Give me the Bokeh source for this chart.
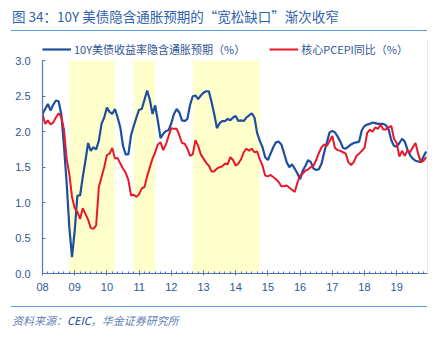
from bokeh.plotting import figure
from bokeh.models import (FixedTicker, Legend, LegendItem, Span, Div, NumeralTickFormatter)
from bokeh.layouts import column
from bokeh.embed import file_html
from bokeh.resources import INLINE

# ---------------- data (monthly, Jan 2008 - Dec 2019) ----------------
start_year = 2008
breakeven_10y = [
    2.25, 2.32, 2.39, 2.30, 2.38, 2.44, 2.43, 2.25, 1.80, 1.28, 0.65, 0.23,   # 2008
    0.60, 1.10, 1.10, 1.36, 1.59, 1.84, 1.73, 1.78, 1.75, 1.87, 2.11, 2.20,   # 2009
    2.34, 2.28, 2.25, 2.32, 2.20, 2.06, 1.80, 1.68, 1.68, 1.95, 2.08, 2.20,   # 2010
    2.31, 2.32, 2.45, 2.58, 2.45, 2.25, 2.37, 2.15, 1.91, 1.97, 2.01, 2.02,   # 2011
    2.12, 2.25, 2.32, 2.27, 2.16, 2.15, 2.18, 2.38, 2.50, 2.51, 2.46, 2.51,   # 2012
    2.55, 2.57, 2.57, 2.42, 2.25, 2.05, 2.12, 2.15, 2.15, 2.18, 2.16, 2.20,   # 2013
    2.22, 2.15, 2.16, 2.15, 2.20, 2.23, 2.26, 2.20, 1.98, 1.87, 1.78, 1.64,   # 2014
    1.60, 1.69, 1.78, 1.85, 1.86, 1.82, 1.70, 1.57, 1.50, 1.54, 1.48, 1.41,   # 2015
    1.33, 1.45, 1.52, 1.60, 1.57, 1.48, 1.46, 1.47, 1.55, 1.71, 1.85, 1.99,   # 2016
    2.01, 1.99, 1.93, 1.86, 1.77, 1.76, 1.79, 1.82, 1.84, 1.85, 1.86, 2.02,   # 2017
    2.08, 2.10, 2.11, 2.13, 2.12, 2.11, 2.11, 2.11, 2.09, 2.03, 1.88, 1.80,   # 2018
    1.79, 1.84, 1.90, 1.86, 1.75, 1.67, 1.62, 1.59, 1.58, 1.57, 1.65, 1.72,   # 2019
]
core_pce_yoy = [
    2.25, 2.11, 2.16, 2.10, 2.13, 2.20, 2.26, 2.21, 2.03, 1.62, 1.40, 1.08,   # 2008
    0.92, 0.87, 0.77, 0.92, 0.84, 0.76, 0.64, 0.63, 0.68, 1.22, 1.36, 1.50,   # 2009
    1.67, 1.69, 1.77, 1.62, 1.63, 1.55, 1.48, 1.42, 1.32, 1.10, 1.11, 1.08,   # 2010
    1.12, 1.20, 1.22, 1.37, 1.50, 1.62, 1.71, 1.82, 1.85, 1.74, 1.82, 1.94,   # 2011
    2.05, 2.04, 2.04, 1.95, 1.84, 1.83, 1.76, 1.66, 1.68, 1.88, 1.80, 1.68,   # 2012
    1.62, 1.56, 1.52, 1.44, 1.44, 1.48, 1.50, 1.51, 1.55, 1.54, 1.64, 1.60,   # 2013
    1.52, 1.55, 1.61, 1.71, 1.76, 1.73, 1.76, 1.71, 1.72, 1.61, 1.52, 1.38,   # 2014
    1.37, 1.39, 1.36, 1.33, 1.29, 1.23, 1.23, 1.24, 1.21, 1.18, 1.15, 1.28,   # 2015
    1.38, 1.41, 1.45, 1.47, 1.50, 1.52, 1.60, 1.70, 1.78, 1.82, 1.80, 1.87,   # 2016
    1.94, 1.77, 1.74, 1.73, 1.71, 1.69, 1.57, 1.53, 1.57, 1.66, 1.69, 1.73,   # 2017
    1.77, 1.98, 2.03, 2.00, 2.06, 2.04, 2.10, 2.03, 2.03, 2.06, 2.08, 1.90,   # 2018
    1.84, 1.65, 1.73, 1.66, 1.73, 1.71, 1.78, 1.84, 1.69, 1.57, 1.59, 1.64,   # 2019
]
# QE periods (shaded), as fractional years
qe_start = [2008 + 10/12, 2010 + 10/12, 2012 + 8/12]
qe_end = [2010 + 3/12, 2011 + 6/12, 2014 + 9/12]
tick_years = list(range(2008, 2020))
tick_labels = ["08", "09", "10", "11", "12", "13", "14", "15", "16", "17", "18", "19"]
y_ticks = [0.0, 0.5, 1.0, 1.5, 2.0, 2.5, 3.0]

series1_name = "10Y美债收益率隐含通胀预期（%）"
series2_name = "核心PCEPI同比（%）"
title_text = "图 34：10Y 美债隐含通胀预期的“宽松缺口”渐次收窄"

# ---------------- figure ----------------
x = [start_year + i / 12 for i in range(len(breakeven_10y))]
x_end = 2019.957

BLUE_TXT = "#2f5597"
AXIS_C = "#4a76c0"
LAB_FONT = "Liberation Sans"
CJK = "Noto Sans CJK SC"

p = figure(width=438, height=275, output_backend="svg", toolbar_location=None,
           x_range=(2008, x_end), y_range=(0, 3.3),
           min_border_left=42, min_border_right=11, min_border_top=8, min_border_bottom=33)
p.outline_line_color = None
p.grid.visible = False
p.background_fill_color = "white"
p.border_fill_color = "white"

p.quad(left=qe_start, right=qe_end, bottom=0, top=3.0, fill_color="#FFFFCC",
       line_color=None)

r1 = p.line(x, breakeven_10y, line_color="#1f4e9f", line_width=2.2)
r2 = p.line(x, core_pce_yoy, line_color="#e8182c", line_width=2.0)

# y axis
p.yaxis.bounds = (0, 3.0)
p.yaxis.ticker = FixedTicker(ticks=y_ticks, minor_ticks=[])
p.yaxis.formatter = NumeralTickFormatter(format="0.0")
p.yaxis.axis_line_color = AXIS_C
p.yaxis.axis_line_width = 1.2
p.yaxis.major_tick_line_color = AXIS_C
p.yaxis.major_tick_in = 3
p.yaxis.major_tick_out = 0
p.yaxis.minor_tick_line_color = None
p.yaxis.major_label_standoff = 12
p.yaxis.major_label_text_color = BLUE_TXT
p.yaxis.major_label_text_font = LAB_FONT
p.yaxis.major_label_text_font_size = "11px"

# x axis
minor = [2008 + k / 6 for k in range(0, 72)]
p.xaxis.ticker = FixedTicker(ticks=tick_years, minor_ticks=minor)
p.xaxis.major_label_overrides = {yr: lab for yr, lab in zip(tick_years, tick_labels)}
p.xaxis.axis_line_color = AXIS_C
p.xaxis.axis_line_width = 1.2
p.xaxis.major_tick_line_color = AXIS_C
p.xaxis.minor_tick_line_color = AXIS_C
p.xaxis.major_tick_in = 3
p.xaxis.major_tick_out = 2
p.xaxis.minor_tick_in = 2
p.xaxis.minor_tick_out = 0
p.xaxis.major_label_standoff = 7
p.xaxis.major_label_text_color = BLUE_TXT
p.xaxis.major_label_text_font = LAB_FONT
p.xaxis.major_label_text_font_size = "11px"

# right border
p.add_layout(Span(location=x_end, dimension="height", line_color="#cfcfcf", line_width=1))

legend = Legend(items=[LegendItem(label=series1_name, renderers=[r1]),
                       LegendItem(label=series2_name, renderers=[r2])],
                location="top_left", orientation="horizontal")
legend.margin = 0
legend.padding = 0
legend.spacing = 24
legend.glyph_width = 29
legend.glyph_height = 20
legend.label_height = 20
legend.label_standoff = 3
legend.border_line_color = None
legend.background_fill_alpha = 0
legend.label_text_font = CJK
legend.label_text_font_size = "11px"
legend.label_text_color = BLUE_TXT
p.add_layout(legend)

title_div = Div(
    text=('<div style="margin-left:11px;width:416px;height:31px;box-sizing:border-box;'
          'border-bottom:1.5px solid #5b9bd5;padding-top:8px;padding-left:1px;'
          f"font-family:'{CJK}';font-size:13.5px;line-height:17px;color:#2f62ad;"
          f'white-space:nowrap;">{title_text}</div>'),
    width=438, height=31, margin=0)

src_div = Div(
    text=('<div style="margin-left:11px;width:416px;box-sizing:border-box;'
          'border-top:1.5px solid #5b9bd5;padding-top:5px;padding-left:1px;'
          f"font-family:'{CJK}';font-size:11px;line-height:16px;font-style:italic;"
          'color:#6482b4;white-space:nowrap;">资料来源：'
          '<span style="color:#1f4596">CEIC</span>，华金证券研究所</div>'),
    width=438, height=37, margin=0)

layout = column(title_div, p, src_div, spacing=0)
open("out.html", "w").write(file_html(layout, INLINE))
